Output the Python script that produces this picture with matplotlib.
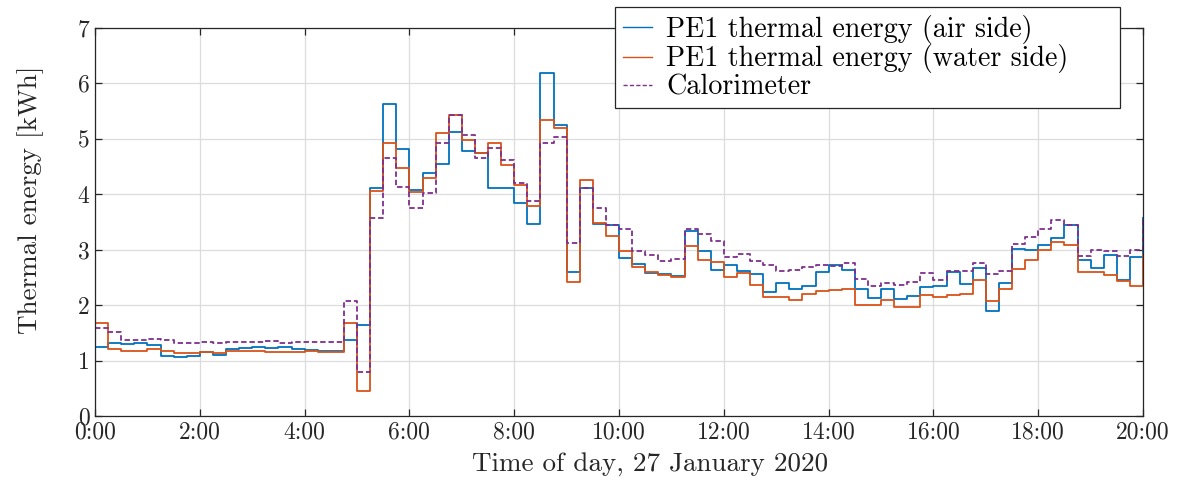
import numpy as np
import matplotlib
matplotlib.use("Agg")
import matplotlib.pyplot as plt

plt.rcParams['font.family'] = 'serif'
plt.rcParams['font.serif'] = ['cmr10']
plt.rcParams['mathtext.fontset'] = 'cm'
plt.rcParams['axes.formatter.use_mathtext'] = True

# 15-minute steps, 0:00 to 20:00 (81 points, last one is the end point)
air_side = [1.25, 1.32, 1.29, 1.31, 1.28, 1.08, 1.07, 1.08, 1.16, 1.10,
            1.20, 1.22, 1.25, 1.23, 1.24, 1.21, 1.19, 1.18, 1.18, 1.38,
            1.65, 4.12, 5.62, 4.81, 4.08, 4.39, 4.55, 5.13, 4.78, 4.75,
            4.11, 4.11, 3.85, 3.47, 6.18, 5.25, 2.60, 4.11, 3.47, 3.45,
            2.85, 2.75, 2.58, 2.57, 2.52, 3.34, 2.97, 2.64, 2.72, 2.61,
            2.57, 2.24, 2.40, 2.30, 2.34, 2.60, 2.72, 2.64, 2.30, 2.12,
            2.30, 2.11, 2.16, 2.33, 2.34, 2.60, 2.39, 2.67, 1.89, 2.40,
            3.02, 2.99, 3.08, 3.21, 3.45, 2.82, 2.67, 2.90, 2.46, 2.87,
            3.58]
water_side = [1.68, 1.20, 1.18, 1.18, 1.20, 1.17, 1.13, 1.14, 1.15, 1.14,
              1.17, 1.17, 1.17, 1.16, 1.16, 1.16, 1.17, 1.16, 1.16, 1.68,
              0.45, 4.06, 4.93, 4.47, 4.05, 4.30, 5.10, 5.43, 4.98, 4.75,
              4.92, 4.53, 4.17, 3.78, 5.34, 5.19, 2.42, 4.26, 3.48, 3.24,
              2.97, 2.69, 2.59, 2.55, 2.51, 3.07, 2.82, 2.78, 2.51, 2.58,
              2.37, 2.15, 2.15, 2.09, 2.21, 2.25, 2.28, 2.30, 2.01, 2.00,
              2.09, 1.97, 1.97, 2.19, 2.15, 2.19, 2.21, 2.45, 2.07, 2.30,
              2.66, 2.82, 3.00, 3.14, 3.09, 2.59, 2.60, 2.54, 2.43, 2.34,
              2.90]
calorimeter = [1.59, 1.52, 1.38, 1.38, 1.39, 1.37, 1.32, 1.32, 1.34, 1.32,
               1.34, 1.34, 1.34, 1.35, 1.31, 1.33, 1.34, 1.34, 1.34, 2.07,
               0.80, 3.58, 4.66, 4.14, 3.75, 4.03, 4.92, 5.43, 5.07, 4.66,
               4.83, 4.62, 4.21, 3.87, 4.93, 5.03, 3.13, 4.11, 3.76, 3.45,
               3.38, 2.97, 2.91, 2.79, 2.83, 3.38, 3.29, 3.15, 2.87, 2.92,
               2.79, 2.72, 2.61, 2.63, 2.69, 2.73, 2.70, 2.76, 2.48, 2.34,
               2.40, 2.37, 2.42, 2.58, 2.45, 2.62, 2.62, 2.76, 2.57, 2.62,
               3.11, 3.23, 3.38, 3.53, 3.45, 2.88, 3.00, 2.97, 2.88, 3.00,
               3.58]
hours = np.arange(len(air_side)) * 0.25

x_ticks = [0, 2, 4, 6, 8, 10, 12, 14, 16, 18, 20]
x_tick_labels = ['0:00', '2:00', '4:00', '6:00', '8:00', '10:00', '12:00',
                 '14:00', '16:00', '18:00', '20:00']
y_ticks = [0, 1, 2, 3, 4, 5, 6, 7]
series_labels = ['PE1 thermal energy (air side)',
                 'PE1 thermal energy (water side)',
                 'Calorimeter']

c_blue = '#0072BD'
c_orange = '#D95319'
c_purple = '#7E2F8E'

fig = plt.figure(figsize=(11.94, 4.84), dpi=100)
ax = fig.add_axes([95/1194, 1 - 416/484, (1143 - 95)/1194, (416 - 28)/484])

ax.step(hours, air_side, where='post', color=c_blue, lw=1.3, label=series_labels[0])
ax.step(hours, water_side, where='post', color=c_orange, lw=1.3, label=series_labels[1])
ax.step(hours, calorimeter, where='post', color=c_purple, lw=1.3,
        dashes=(3, 1.6), label=series_labels[2])

ax.set_xlim(0, 20)
ax.set_ylim(0, 7)
ax.set_xticks(x_ticks)
ax.set_xticklabels(x_tick_labels)
ax.set_yticks(y_ticks)
ax.set_yticklabels([str(v) for v in y_ticks])

ax.grid(True, color='#dcdcdc', lw=0.9)
ax.set_axisbelow(True)
for s in ax.spines.values():
    s.set_color('#262626')
    s.set_linewidth(0.9)
ax.tick_params(direction='in', length=5, width=0.9, color='#262626',
               labelsize=17, labelcolor='#262626', top=True, right=True, pad=4)

ax.set_xlabel('Time of day, 27 January 2020', fontsize=19.5, color='#262626')
ax.xaxis.set_label_coords(0.53, -0.093)
ax.set_ylabel('Thermal energy [kWh]', fontsize=19.5, color='#262626')
ax.yaxis.set_label_coords(-0.049, 0.557)

leg = ax.legend(loc='upper left',
                bbox_to_anchor=(615/1194, 1 - 108/484, 505/1194, 101/484),
                bbox_transform=fig.transFigure, mode='expand', fontsize=20.2,
                frameon=True, fancybox=False, edgecolor='#262626', framealpha=1,
                handlelength=1.05, handletextpad=0.5, labelspacing=0.03,
                borderpad=0.27, borderaxespad=0)
leg.get_frame().set_linewidth(0.9)
for h in leg.get_lines():
    h.set_linewidth(1.0)

fig.savefig('out.png', dpi=100)
